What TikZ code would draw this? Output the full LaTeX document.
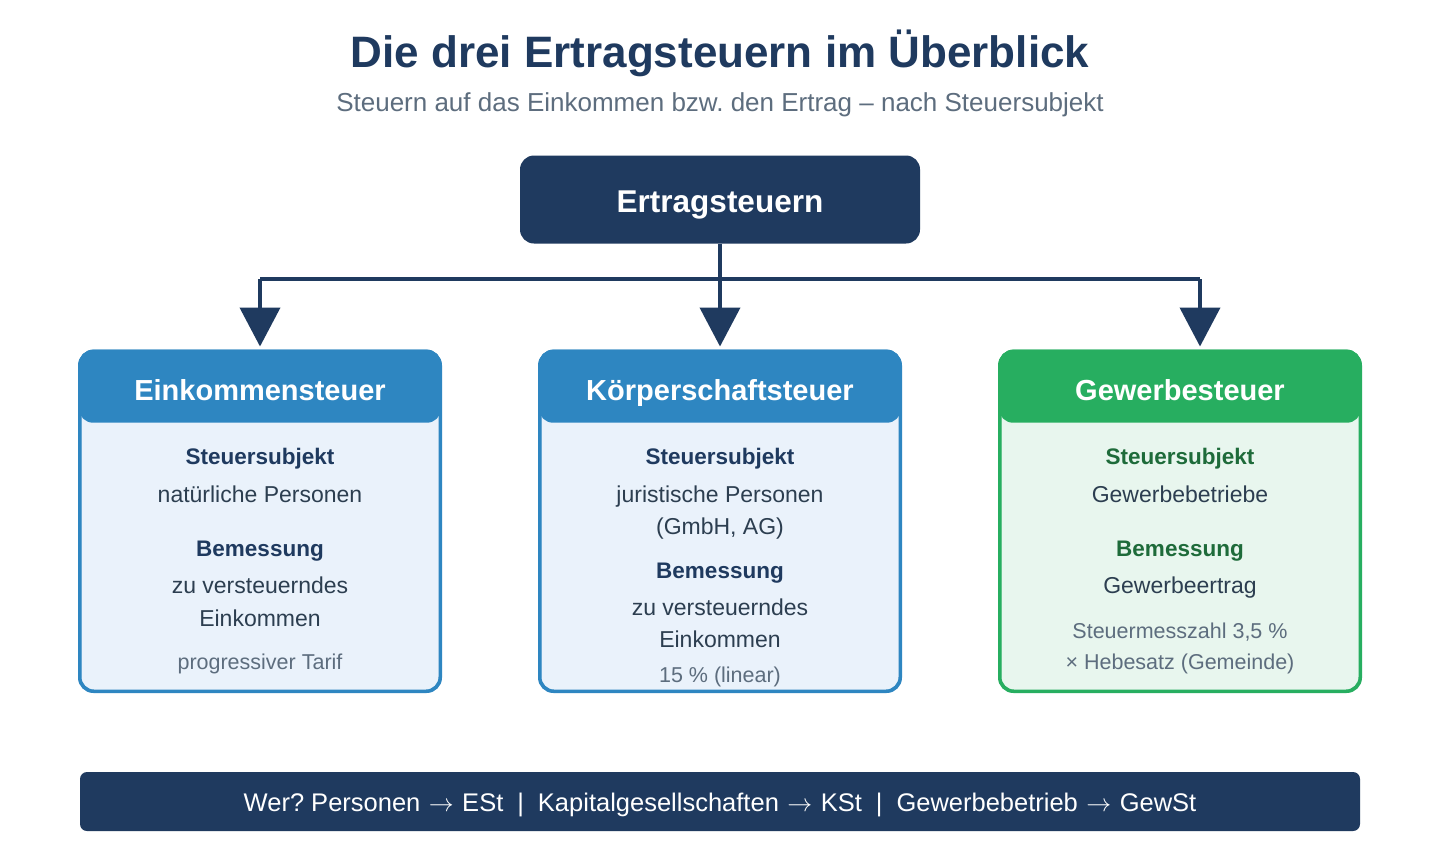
\documentclass[tikz,border=0pt]{standalone}
\usepackage{fontspec}
\setmainfont{Liberation Sans}
\usetikzlibrary{arrows.meta}
\definecolor{navy}{HTML}{1F3A5F}
\definecolor{subgray}{HTML}{5D6D7E}
\definecolor{bodytxt}{HTML}{2C3E50}
\definecolor{hblue}{HTML}{2E86C1}
\definecolor{lblue}{HTML}{EAF2FB}
\definecolor{hgreen}{HTML}{27AE60}
\definecolor{lgreen}{HTML}{E8F6EE}
\definecolor{dgreen}{HTML}{1E6B3A}
\frenchspacing
\newcommand{\sepbar}{\hspace{14pt}|\hspace{14pt}}
\newcommand{\rarr}{\ensuremath{\mskip1mu\rightarrow\mskip1mu}}
\tikzset{
  taxbox/.style={draw=#1, line width=3pt, rounded corners=14pt, minimum width=360pt, minimum height=340pt, inner sep=0pt},
  taxhead/.style={fill=#1, rounded corners=14pt, minimum width=362pt, minimum height=73pt, inner sep=0pt},
  headtxt/.style={text=white, font=\fontsize{29}{29}\selectfont\bfseries, anchor=base},
  lbl/.style={text=#1, font=\fontsize{22.5}{22.5}\selectfont\bfseries, anchor=base},
  val/.style={text=bodytxt, font=\fontsize{23}{23}\selectfont, anchor=base},
  note/.style={text=subgray, font=\fontsize{21.5}{21.5}\selectfont, anchor=base},
  conn/.style={draw=navy, line width=4pt},
  arr/.style={conn, -{Triangle[width=40pt,length=39pt]}, shorten >=3pt},
}
\begin{document}
\begin{tikzpicture}[x=1pt,y=-1pt]
\useasboundingbox[fill=white] (0,0) rectangle (1440,860);
% title
\node[text=navy, font=\fontsize{44}{44}\selectfont\bfseries, anchor=base] (title) at (720,67) {Die drei Ertragsteuern im Überblick};
\node[text=subgray, font=\fontsize{26}{26}\selectfont, anchor=base] (subtitle) at (720,111) {Steuern auf das Einkommen bzw. den Ertrag – nach Steuersubjekt};
% top node
\node[fill=navy, rounded corners=14pt, minimum width=400pt, minimum height=88pt, inner sep=0pt] (top) at (720,199.5) {};
\node[text=white, font=\fontsize{31.5}{31.5}\selectfont\bfseries, anchor=base] (toptxt) at (720,212) {Ertragsteuern};
% boxes
\node[taxbox=hblue, fill=lblue] (ebox) at (260,521) {};
\node[taxbox=hblue, fill=lblue] (kbox) at (720,521) {};
\node[taxbox=hgreen, fill=lgreen] (gbox) at (1180,521) {};
\node[taxhead=hblue, anchor=north] (ehead) at (260,349.5) {};
\node[taxhead=hblue, anchor=north] (khead) at (720,349.5) {};
\node[taxhead=hgreen, anchor=north] (ghead) at (1180,349.5) {};
\draw[hblue, line width=3pt, rounded corners=14pt] (79.5,351.5) rectangle (440.5,691.5);
\draw[hblue, line width=3pt, rounded corners=14pt] (539.5,351.5) rectangle (900.5,691.5);
\draw[hgreen, line width=3pt, rounded corners=14pt] (999.5,351.5) rectangle (1360.5,691.5);
\node[headtxt] (eht) at (260,400) {Einkommensteuer};
\node[headtxt] (kht) at (720,400) {Körperschaftsteuer};
\node[headtxt] (ght) at (1180,400) {Gewerbesteuer};
% connectors
\coordinate (busL) at (260,279);
\coordinate (busR) at (1200,279);
\draw[conn] (busL) -- (busR);
\draw[conn] (top.south) -- (top.south |- busL);
\draw[arr] (busL) -- (ebox.north);
\draw[arr] (top.south |- busL) -- (kbox.north);
\draw[arr] (busR) -- (busR |- gbox.north);
% left box content
\node[lbl=navy] (e1) at (260,464) {Steuersubjekt};
\node[val] (e2) at (260,502) {natürliche Personen};
\node[lbl=navy] (e3) at (260,556) {Bemessung};
\node[val] (e4) at (260,593) {zu versteuerndes};
\node[val] (e5) at (260,626) {Einkommen};
\node[note] (e6) at (260,669) {progressiver Tarif};
% middle box content
\node[lbl=navy] (k1) at (720,464) {Steuersubjekt};
\node[val] (k2) at (720,502) {juristische Personen};
\node[val] (k3) at (720,534) {(GmbH, AG)};
\node[lbl=navy] (k4) at (720,578) {Bemessung};
\node[val] (k5) at (720,615) {zu versteuerndes};
\node[val] (k6) at (720,647) {Einkommen};
\node[note] (k7) at (720,682) {15 \% (linear)};
% right box content
\node[lbl=dgreen] (g1) at (1180,464) {Steuersubjekt};
\node[val] (g2) at (1180,502) {Gewerbebetriebe};
\node[lbl=dgreen] (g3) at (1180,556) {Bemessung};
\node[val] (g4) at (1180,593) {Gewerbeertrag};
\node[note] (g5) at (1180,638) {Steuermesszahl 3,5 \%};
\node[note] (g6) at (1180,669) {× Hebesatz (Gemeinde)};
% bottom bar
\node[fill=navy, rounded corners=7pt, minimum width=1280pt, minimum height=59pt, inner sep=0pt] (bar) at (720,801.5) {};
\node[text=white, font=\fontsize{25.5}{25.5}\selectfont, anchor=base] (bartxt) at (720,811.5) {Wer? Personen \rarr{} ESt\sepbar Kapitalgesellschaften \rarr{} KSt\sepbar Gewerbebetrieb \rarr{} GewSt};
\end{tikzpicture}
\end{document}
